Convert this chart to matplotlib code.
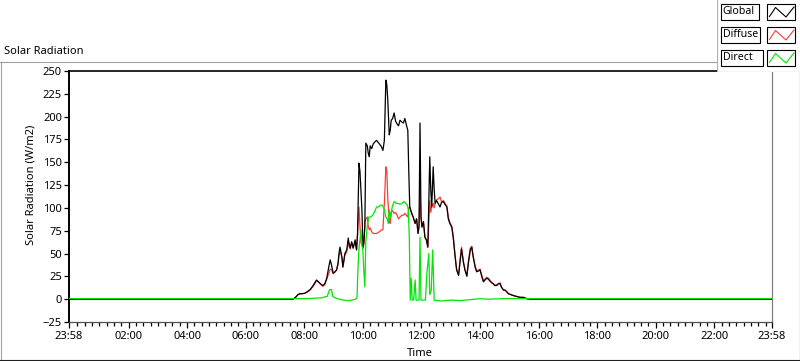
import matplotlib
matplotlib.use("Agg")
import matplotlib.pyplot as plt
from matplotlib.patches import Rectangle
from matplotlib.ticker import FixedLocator, FuncFormatter

# ---------------------------------------
# Data (minutes since midnight, W/m2)
# ---------------------------------------
series_names = ["Global", "Diffuse", "Direct"]

gd_time = [-2, 457, 462, 467, 471, 476, 481, 486, 492, 498, 505, 509, 512, 515,
           518, 522, 526, 530, 533, 536, 539, 543, 546, 549, 551, 553, 555, 557,
           559, 561, 563, 567, 570, 572, 574, 577, 580, 582, 584, 587, 589, 592,
           594, 596, 598, 600, 602, 604, 606, 609, 611, 613, 615, 618, 621, 624,
           628, 631, 634, 638, 641, 644, 647, 649, 651, 654, 656, 658, 661, 664,
           667, 670, 673, 676, 680, 683, 686, 689, 692, 694, 696, 700, 703, 707,
           710, 713, 715, 717, 719, 721, 724, 727, 730, 733, 737, 739, 741, 744,
           746, 748, 751, 755, 758, 761, 765, 768, 772, 775, 778, 782, 785, 789,
           792, 796, 799, 802, 806, 809, 813, 816, 820, 823, 826, 830, 833, 837,
           840, 844, 847, 850, 854, 857, 860, 864, 867, 870, 874, 878, 881, 884,
           888, 891, 895, 898, 903, 908, 915, 922, 929, 936, 942, 1438]

global_rad = [0, 0, 2, 5, 6, 6, 6.5, 8, 10.6, 15, 21, 19, 17.5, 16,
              15, 17, 23, 35, 43, 37, 28.5, 30, 32, 39, 50, 57, 52, 46,
              35, 42, 50, 54, 67, 60, 56, 63, 56, 60, 65, 54, 72, 149,
              140, 118, 98, 57, 62, 80, 171, 168, 160, 156, 168, 165, 170, 172,
              174, 172, 170, 167, 163, 174, 240, 235, 218, 180, 185, 196, 198, 204,
              195, 192, 190, 196, 194, 193, 198, 191, 185, 140, 101, 94, 90, 83,
              88, 72, 80, 193, 90, 79, 85, 68, 65, 57, 156, 120, 101, 145,
              120, 105, 108, 104, 101, 106, 107, 104, 101, 88, 83, 79, 68, 46,
              32, 26, 41, 55, 40, 32, 25, 39, 54, 57, 46, 35, 30, 31,
              32, 24, 19, 21, 23, 22, 20, 18, 17, 15, 15, 17, 17, 13,
              10, 10, 8, 6, 5, 4, 3, 2, 2, 0.5, 0, 0]

diffuse_rad = [0, 0, 2, 5, 6, 6, 6.5, 8, 10, 14, 20, 19, 17, 15.5,
               14, 16, 22, 28, 33, 32, 28, 30, 32, 38, 47, 52, 50, 46,
               36, 42, 48, 52, 62, 58, 55, 62, 56, 60, 63, 54, 70, 101,
               80, 62, 60, 55, 60, 83, 88, 90, 80, 76, 78, 74, 72, 72,
               72, 73, 74, 76, 76, 105, 145, 141, 110, 86, 83, 95, 97, 94,
               95, 92, 88, 90, 92, 92, 94, 92, 90, 100, 101, 94, 90, 83,
               88, 72, 80, 119, 90, 79, 85, 68, 65, 57, 108, 95, 101, 105,
               100, 105, 109, 110, 112, 107, 108, 105, 102, 90, 84, 80, 69, 47,
               33, 27, 43, 57, 41, 33, 26, 41, 56, 58, 47, 36, 31, 32,
               33, 25, 20, 22, 24, 23, 21, 18, 17, 15, 16, 17, 18, 13,
               10, 10, 8, 6, 5, 4, 3, 2, 2, 0.5, 0, 0]

direct_time = [-2, 457, 480, 500, 515, 522, 527, 530, 532, 536, 538, 545, 552,
               560, 570, 578, 585, 588, 590, 592, 594, 596, 598, 600, 602, 604,
               606, 609, 612, 616, 620, 624, 628, 632, 636, 640, 644, 647, 650,
               652, 654, 657, 660, 664, 668, 672, 676, 680, 684, 688, 691, 693,
               695, 697, 699, 701, 704, 707, 709, 715, 717, 719, 728, 731, 735,
               737, 740, 743, 746, 760, 780, 800, 820, 840, 860, 880, 900, 1438]

direct_rad = [0.7, 0.7, 0.5, 1, 1.5, 2.5, 3, 8, 10.5, 10.5, 3, 1, 0,
              -1, -1.5, -1, 0, 2, 35, 55, 65, 76, 60, 53, 30, 13.5,
              63, 80, 90, 90, 92, 96, 101, 101, 103, 103, 98, 90, 88,
              83, 98, 90, 101, 107, 105, 105, 104, 105, 107, 105, 103, 98,
              69, -1, 23, -1, -1, 21, -1, -1, 68, -1, -1, 28, 50,
              5, 10, 54, -1, -2, -1, -1.5, -0.5, 0.5, 0, 0.5, 0.7, 0.7]

# x axis: major ticks every 2 h, first and last labelled 23:58
major_ticks = [-2, 120, 240, 360, 480, 600, 720, 840, 960, 1080, 1200, 1320, 1438]
minor_ticks = [m for m in range(15, 1438, 15) if m % 120 != 0]
y_ticks = [-25, 0, 25, 50, 75, 100, 125, 150, 175, 200, 225, 250]

colors = ["#000000", "#ff3c3c", "#00e600"]

plt.rcParams["font.family"] = ["Noto Sans", "DejaVu Sans"]
plt.rcParams["font.size"] = 8

fig = plt.figure(figsize=(8, 3.61), dpi=100)

# ---------------------------------------
# Panel frame (pixel coordinates)
# ---------------------------------------
bg = fig.add_axes([0, 0, 1, 1], zorder=0)
bg.set_xlim(0, 800)
bg.set_ylim(361, 0)
bg.axis("off")
bg.plot([0, 800], [61.5, 61.5], color="#a0a0a0", lw=0.8)
bg.plot([0.5, 0.5], [61.5, 361], color="#a0a0a0", lw=0.8)
bg.plot([0, 800], [359.5, 359.5], color="#202020", lw=0.8)
bg.plot([799.5, 799.5], [61.5, 361], color="#202020", lw=0.8)
bg.text(4, 51, "Solar Radiation", ha="left", va="center", fontsize=8)
bg.text(31, 185, "Solar Radiation (W/m2)", ha="center", va="center",
        rotation=90, fontsize=8)
bg.text(420, 353, "Time", ha="center", va="center", fontsize=8)

# ---------------------------------------
# Plot
# ---------------------------------------
ax = fig.add_axes([69 / 800, 1 - 322 / 361, 703 / 800, 251 / 361], zorder=1)
ax.set_facecolor("white")

ax.plot(gd_time, diffuse_rad, color=colors[1], lw=0.9, zorder=2)
ax.plot(gd_time, global_rad, color=colors[0], lw=0.9, zorder=3)
ax.plot(direct_time, direct_rad, color=colors[2], lw=0.9, zorder=4)

ax.set_xlim(-2, 1438)
ax.set_ylim(-25, 250)

ax.xaxis.set_major_locator(FixedLocator(major_ticks))
ax.xaxis.set_minor_locator(FixedLocator(minor_ticks))
ax.xaxis.set_major_formatter(FuncFormatter(
    lambda v, p: "%02d:%02d" % (int(v % 1440) // 60, int(v % 1440) % 60)))
ax.set_yticks(y_ticks)

ax.tick_params(axis="x", which="major", direction="out", length=4.5, width=0.9, pad=2)
ax.tick_params(axis="x", which="minor", direction="out", length=3, width=0.9)
ax.tick_params(axis="y", direction="out", length=3.6, width=0.9, pad=1.5)

ax.spines["left"].set_linewidth(1.4)
ax.spines["top"].set_linewidth(1.2)
ax.spines["right"].set_color("#808080")
ax.spines["right"].set_linewidth(0.9)
ax.spines["bottom"].set_color("#505050")
ax.spines["bottom"].set_linewidth(0.9)

# ---------------------------------------
# Legend (LabVIEW style plot legend)
# ---------------------------------------
leg = fig.add_axes([717 / 800, 1 - 72 / 361, 83 / 800, 72 / 361], zorder=5)
leg.set_xlim(717, 800)
leg.set_ylim(72, 0)
leg.axis("off")
leg.add_patch(Rectangle((717, 0), 83, 72, facecolor="white", edgecolor="none"))
leg.plot([717.5, 717.5], [0, 71.5], color="#b0b0b0", lw=0.9)
leg.plot([717.5, 800], [71.5, 71.5], color="#b0b0b0", lw=0.9)

row_tops = [3.5, 26.5, 49.5]
label_right = [759.5, 760.5, 763.5]
for name, col, top, right in zip(series_names, colors, row_tops, label_right):
    leg.add_patch(Rectangle((721.5, top), right - 721.5, 16,
                            facecolor="white", edgecolor="black", lw=0.8))
    leg.text(722.8, top + 8.3, name, ha="left", va="center", fontsize=7.6)
    leg.add_patch(Rectangle((767.5, top), 28, 16,
                            facecolor="white", edgecolor="black", lw=0.8))
    zx = [769.5, 775.5, 786, 794]
    zy = [top + 13, top + 4, top + 13.5, top + 3.5]
    leg.plot(zx, zy, color=col, lw=0.8)

fig.savefig("out.png", dpi=100)
